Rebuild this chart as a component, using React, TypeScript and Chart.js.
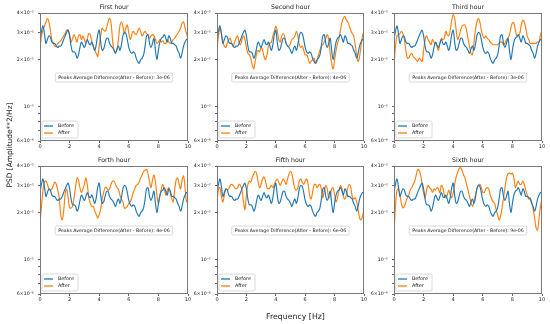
import { useEffect, useRef } from "react";
import { Chart, registerables } from "chart.js";

Chart.register(...registerables);
Chart.defaults.font.family = '"DejaVu Sans", sans-serif';

// Frequencies in Hz
const FREQ = [
  0, 0.1, 0.2, 0.3, 0.4, 0.5, 0.6, 0.7, 0.8, 0.9,
  1, 1.1, 1.2, 1.3, 1.4, 1.5, 1.6, 1.7, 1.8, 1.9,
  2, 2.1, 2.2, 2.3, 2.4, 2.5, 2.6, 2.7, 2.8, 2.9,
  3, 3.1, 3.2, 3.3, 3.4, 3.5, 3.6, 3.7, 3.8, 3.9,
  4, 4.1, 4.2, 4.3, 4.4, 4.5, 4.6, 4.7, 4.8, 4.9,
  5, 5.1, 5.2, 5.3, 5.4, 5.5, 5.6, 5.7, 5.8, 5.9,
  6, 6.1, 6.2, 6.3, 6.4, 6.5, 6.6, 6.7, 6.8, 6.9,
  7, 7.1, 7.2, 7.3, 7.4, 7.5, 7.6, 7.7, 7.8, 7.9,
  8, 8.1, 8.2, 8.3, 8.4, 8.5, 8.6, 8.7, 8.8, 8.9,
  9, 9.1, 9.2, 9.3, 9.4, 9.5, 9.6, 9.7, 9.8, 9.9, 10,
];

// PSD values in units of 1e-5 Amplitude**2/Hz
const BEFORE = [
  2.7, 3.05, 3.3, 2.95, 2.55, 2.7, 2.85, 2.8, 2.6, 2.55,
  2.55, 2.45, 2.4, 2.45, 2.45, 2.55, 2.7, 2.85, 3.0, 3.1,
  2.85, 2.45, 2.25, 2.25, 2.2, 2.05, 2.15, 2.4, 2.6, 2.5,
  2.4, 2.55, 2.7, 2.55, 2.5, 2.6, 2.45, 2.3, 2.5, 2.9,
  3.1, 2.6, 2.3, 2.35, 2.55, 2.75, 2.75, 2.55, 2.45, 2.4,
  2.3, 2.2, 2.35, 2.45, 2.3, 2.5, 2.85, 3.0, 2.95, 2.7,
  2.4, 2.25, 2.2, 2.25, 2.2, 2.05, 1.95, 1.9, 2.0, 2.05,
  2.15, 2.45, 2.85, 2.9, 2.55, 2.4, 2.55, 2.75, 2.3, 2.0,
  2.3, 2.6, 2.75, 2.8, 2.9, 2.75, 2.6, 2.85, 2.75, 2.55,
  2.55, 2.5, 2.45, 2.3, 2.2, 2.05, 2.2, 2.45, 2.6, 2.7, 2.7,
];

const AFTER_1 = [
  2.35, 2.85, 3.1, 3.3, 3.5, 3.7, 3.5, 3.1, 2.7, 2.55,
  2.45, 2.45, 2.55, 2.6, 2.65, 2.75, 2.85, 2.95, 3.1, 3.1,
  2.9, 2.6, 2.75, 2.9, 2.75, 2.6, 2.85, 2.9, 2.7, 2.85,
  2.7, 2.55, 2.75, 2.95, 2.9, 2.6, 2.45, 2.3, 2.2, 2.1,
  2.45, 2.85, 3.2, 3.1, 3.05, 3.2, 3.5, 3.7, 3.45, 2.7,
  2.3, 2.25, 2.3, 2.7, 3.3, 3.5, 3.3, 2.95, 3.2, 3.35,
  2.95, 2.7, 2.9, 3.05, 2.95, 2.9, 3.05, 3.2, 3.05, 2.85,
  2.95, 3.05, 2.95, 2.9, 2.75, 2.85, 2.9, 2.85, 2.7, 2.55,
  2.6, 2.7, 2.6, 2.65, 2.55, 2.55, 2.7, 2.6, 2.55, 2.6,
  2.7, 2.75, 2.85, 2.95, 3.05, 3.2, 3.45, 3.5, 3.2, 2.95, 2.75,
];

const AFTER_2 = [
  2.3, 2.85, 3.2, 2.95, 2.6, 2.45, 2.4, 2.55, 2.7, 2.75,
  2.55, 2.45, 2.6, 2.75, 2.85, 2.6, 2.5, 2.7, 2.85, 2.7,
  2.4, 2.2, 2.15, 2.05, 1.85, 1.75, 1.95, 2.2, 2.3, 2.25,
  2.4, 2.3, 2.1, 2.0, 2.15, 2.45, 2.55, 2.6, 2.85, 3.05,
  3.3, 3.05, 2.7, 2.6, 2.85, 2.95, 2.85, 2.55, 2.45, 2.45,
  2.55, 2.7, 2.75, 2.85, 3.05, 2.85, 2.5, 2.4, 2.45, 2.3,
  2.15, 2.15, 2.05, 1.9, 1.95, 2.0, 2.05, 1.9, 1.95, 2.15,
  2.3, 2.45, 2.5, 2.6, 2.75, 2.9, 2.7, 2.2, 1.9, 1.75,
  2.0, 2.3, 2.55, 2.75, 3.1, 3.5, 3.7, 3.8, 3.6, 3.5,
  3.3, 3.1, 2.95, 2.85, 2.5, 2.15, 1.95, 2.1, 2.45, 2.85, 3.05,
];

const AFTER_3 = [
  1.8, 2.45, 2.85, 2.9, 2.95, 3.05, 2.95, 2.7, 2.3, 2.05,
  2.05, 2.15, 2.2, 2.1, 2.05, 2.0, 1.95, 2.05, 2.0, 1.95,
  2.3, 2.7, 2.85, 2.7, 2.6, 2.5, 2.7, 2.6, 2.55, 2.45,
  2.3, 2.55, 2.75, 2.7, 2.75, 3.05, 2.9, 2.85, 3.1, 3.6,
  3.9, 3.7, 3.1, 2.7, 2.85, 3.1, 3.3, 3.35, 3.35, 3.1,
  2.75, 2.45, 2.2, 2.15, 2.55, 3.1, 3.5, 3.7, 3.5, 3.1,
  2.85, 2.75, 2.85, 2.75, 2.7, 2.6, 2.55, 2.5, 2.5, 2.5,
  2.5, 2.55, 2.6, 2.6, 2.5, 2.55, 2.7, 2.75, 2.9, 3.2,
  3.45, 3.45, 3.1, 2.85, 2.85, 2.95, 3.35, 3.6, 3.5, 3.2,
  2.85, 2.7, 2.55, 2.55, 2.55, 2.55, 2.55, 2.6, 2.6, 2.9, 3.1,
];

const AFTER_4 = [
  1.7, 2.2, 2.8, 3.15, 3.2, 3.05, 2.85, 2.8, 2.85, 3.0,
  3.15, 3.05, 2.8, 2.5, 1.95, 1.8, 2.05, 2.65, 2.85, 2.5,
  2.15, 2.15, 2.2, 2.5, 2.9, 3.35, 3.25, 2.9, 2.7, 2.85,
  3.05, 3.35, 3.0, 2.5, 2.3, 2.2, 2.2, 2.05, 1.95, 1.85,
  1.95, 2.1, 2.45, 2.7, 2.9, 2.9, 2.8, 2.85, 3.05, 3.2,
  3.2, 3.05, 2.9, 2.85, 2.6, 2.45, 2.35, 2.15, 2.15, 2.2,
  2.3, 2.35, 2.5, 2.7, 2.85, 3.0, 3.05, 3.15, 3.35, 3.5,
  3.7, 3.75, 3.8, 3.55, 3.15, 2.9, 3.25, 3.5, 3.15, 2.6,
  2.3, 2.55, 2.85, 3.05, 2.85, 2.6, 2.8, 2.9, 2.7, 2.45,
  2.35, 2.8, 3.25, 3.35, 3.05, 2.85, 3.25, 3.45, 2.9, 2.35, 2.5,
];

const AFTER_5 = [
  2.35, 2.85, 2.9, 2.55, 2.35, 2.6, 2.85, 2.8, 2.85, 3.0,
  3.05, 3.0, 2.9, 2.85, 2.9, 3.05, 3.0, 2.8, 2.35, 2.1,
  2.6, 3.05, 3.2, 3.15, 3.4, 3.55, 3.7, 3.55, 3.15, 2.9,
  3.05, 3.3, 3.4, 3.2, 2.9, 2.85, 2.9, 3.0, 2.9, 3.05,
  3.2, 3.3, 3.15, 3.0, 3.15, 3.3, 3.2, 3.05, 3.3, 3.55,
  3.7, 3.55, 3.15, 2.85, 2.8, 2.9, 3.2, 3.3, 3.15, 3.05,
  3.2, 3.3, 3.05, 2.6, 2.45, 2.7, 3.0, 3.05, 2.9, 3.0,
  3.05, 2.85, 2.5, 2.8, 3.0, 2.85, 2.5, 2.55, 2.85, 2.9,
  2.6, 2.35, 2.5, 2.8, 3.0, 2.85, 2.55, 2.45, 2.6, 2.9,
  3.05, 2.9, 2.55, 2.45, 2.5, 2.35, 2.1, 1.85, 1.8, 1.9, 2.1,
];

const AFTER_6 = [
  1.45, 2.2, 2.8, 2.85, 2.6, 2.3, 2.15, 2.2, 2.35, 2.5,
  2.6, 2.8, 2.9, 3.05, 3.2, 3.5, 3.8, 3.75, 3.5, 3.05,
  2.7, 2.5, 2.8, 3.0, 2.9, 2.85, 2.7, 2.85, 2.8, 2.9,
  2.85, 2.7, 3.0, 2.9, 2.6, 2.5, 2.6, 2.8, 2.6, 2.5,
  2.7, 3.05, 3.4, 3.65, 3.85, 3.9, 3.75, 3.5, 3.35, 3.05,
  2.8, 2.55, 2.35, 2.2, 2.35, 2.6, 2.85, 3.0, 3.05, 2.9,
  2.7, 2.7, 2.85, 2.9, 2.85, 2.6, 2.45, 2.35, 2.3, 2.1,
  1.95, 1.8, 1.9, 2.15, 2.5, 2.9, 3.35, 3.55, 3.6, 3.55,
  3.6, 3.35, 2.9, 3.05, 3.2, 3.05, 3.05, 3.2, 3.05, 2.8,
  2.6, 2.45, 2.5, 2.35, 2.1, 1.85, 1.6, 1.55, 1.85, 2.2, 2.5,
];

const AFTERS = [AFTER_1, AFTER_2, AFTER_3, AFTER_4, AFTER_5, AFTER_6];
const TITLES = ["First hour", "Second hour", "Third hour", "Forth hour", "Fifth hour", "Sixth hour"];
const DIFFS = ["3e-06", "4e-06", "3e-06", "4e-06", "6e-06", "9e-06"];
const SERIES_NAMES = ["Before", "After"];
const Y_TICKS = [0.6, 0.7, 0.8, 0.9, 1, 2, 3, 4];
const Y_TICK_LABELS = ["6×10⁻⁶", "", "", "", "10⁻⁵", "2×10⁻⁵", "3×10⁻⁵", "4×10⁻⁵"];
const X_TICKS = [0, 2, 4, 6, 8, 10];

const BLUE = "#1f77b4";
const ORANGE = "#ff7f0e";
const FONT = '"DejaVu Sans", sans-serif';

const PANELS = [
  { l: 40, t: 13, w: 148, h: 128 },
  { l: 217, t: 13, w: 147, h: 128 },
  { l: 394, t: 13, w: 148, h: 128 },
  { l: 40, t: 166, w: 148, h: 128 },
  { l: 217, t: 166, w: 147, h: 128 },
  { l: 394, t: 166, w: 148, h: 128 },
];

const PAD_L = 40;
const PAD_T = 14;
const PAD_R = 8;
const PAD_B = 16;

function roundRect(ctx: CanvasRenderingContext2D, x: number, y: number, w: number, h: number, r: number) {
  ctx.beginPath();
  ctx.moveTo(x + r, y);
  ctx.lineTo(x + w - r, y);
  ctx.quadraticCurveTo(x + w, y, x + w, y + r);
  ctx.lineTo(x + w, y + h - r);
  ctx.quadraticCurveTo(x + w, y + h, x + w - r, y + h);
  ctx.lineTo(x + r, y + h);
  ctx.quadraticCurveTo(x, y + h, x, y + h - r);
  ctx.lineTo(x, y + r);
  ctx.quadraticCurveTo(x, y, x + r, y);
  ctx.closePath();
}

function makeDecor(title: string, diff: string) {
  return {
    id: "decor",
    afterDraw(chart: any) {
      const ctx: CanvasRenderingContext2D = chart.ctx;
      const a = chart.chartArea;
      ctx.save();
      // frame
      ctx.strokeStyle = "#7a7a7a";
      ctx.lineWidth = 1;
      ctx.strokeRect(a.left + 0.5, a.top + 0.5, a.right - a.left - 1, a.bottom - a.top - 1);
      // title
      ctx.fillStyle = "#1a1a1a";
      ctx.font = `6.2px ${FONT}`;
      ctx.textAlign = "center";
      ctx.textBaseline = "middle";
      const cx = (a.left + a.right) / 2;
      ctx.fillText(title, cx, a.top - 6);
      // annotation
      const txt = `Peaks Average Difference(After - Before): ${diff}`;
      ctx.font = `4.7px ${FONT}`;
      const tw = ctx.measureText(txt).width;
      const cy = (a.top + a.bottom) / 2 + 0.5;
      roundRect(ctx, cx - tw / 2 - 3, cy - 4.5, tw + 6, 9, 1.5);
      ctx.fillStyle = "rgba(255,255,255,0.85)";
      ctx.fill();
      ctx.strokeStyle = "#d0d0d0";
      ctx.lineWidth = 0.8;
      ctx.stroke();
      ctx.fillStyle = "#1a1a1a";
      ctx.fillText(txt, cx, cy);
      // legend
      const lx = a.left + 2;
      const lh = 17;
      const ly = a.bottom - 3 - lh;
      roundRect(ctx, lx, ly, 36, lh, 1.5);
      ctx.fillStyle = "rgba(255,255,255,0.85)";
      ctx.fill();
      ctx.strokeStyle = "#d0d0d0";
      ctx.lineWidth = 0.8;
      ctx.stroke();
      const cols = [BLUE, ORANGE];
      ctx.font = `4.9px ${FONT}`;
      ctx.textAlign = "left";
      SERIES_NAMES.forEach((name, i) => {
        const y = ly + 5 + i * 7;
        ctx.strokeStyle = cols[i];
        ctx.lineWidth = 1.3;
        ctx.beginPath();
        ctx.moveTo(lx + 2, y);
        ctx.lineTo(lx + 11, y);
        ctx.stroke();
        ctx.fillStyle = "#1a1a1a";
        ctx.fillText(name, lx + 16, y);
      });
      ctx.restore();
    },
  };
}

function Panel({ idx, rect }: { idx: number; rect: { l: number; t: number; w: number; h: number } }) {
  const ref = useRef<HTMLCanvasElement | null>(null);
  const W = rect.w + PAD_L + PAD_R;
  const H = rect.h + PAD_T + PAD_B;
  useEffect(() => {
    if (!ref.current) return;
    const after = AFTERS[idx];
    const chart = new Chart(ref.current, {
      type: "line",
      data: {
        datasets: [
          {
            label: SERIES_NAMES[0],
            data: FREQ.map((x, i) => ({ x, y: BEFORE[i] })),
            borderColor: BLUE,
            borderWidth: 1.15,
            pointRadius: 0,
            tension: 0.35,
            fill: false,
          },
          {
            label: SERIES_NAMES[1],
            data: FREQ.map((x, i) => ({ x, y: after[i] })),
            borderColor: ORANGE,
            borderWidth: 1.15,
            pointRadius: 0,
            tension: 0.35,
            fill: false,
          },
        ],
      },
      options: {
        animation: false,
        responsive: false,
        maintainAspectRatio: false,
        layout: { padding: { left: 0, top: PAD_T, right: PAD_R, bottom: 0 } },
        plugins: { legend: { display: false }, title: { display: false }, tooltip: { enabled: false } },
        scales: {
          x: {
            type: "linear",
            min: 0,
            max: 10,
            afterFit: (s: any) => {
              s.height = PAD_B;
            },
            afterBuildTicks: (s: any) => {
              s.ticks = X_TICKS.map((v) => ({ value: v }));
            },
            ticks: {
              autoSkip: false,
              maxRotation: 0,
              padding: 1,
              color: "#222",
              font: { size: 5, family: FONT },
            },
            grid: { display: true, drawOnChartArea: false, drawTicks: true, tickLength: 2, color: "#666" },
            border: { display: false },
          },
          y: {
            type: "logarithmic",
            min: 0.6,
            max: 4,
            afterFit: (s: any) => {
              s.width = PAD_L;
            },
            afterBuildTicks: (s: any) => {
              s.ticks = Y_TICKS.map((v) => ({ value: v }));
            },
            ticks: {
              autoSkip: false,
              padding: 4,
              color: "#222",
              font: { size: 4.7, family: FONT },
              callback: (_v: any, i: number) => Y_TICK_LABELS[i],
            },
            grid: { display: true, drawOnChartArea: false, drawTicks: true, tickLength: 2, color: "#666" },
            border: { display: false },
          },
        },
      },
      plugins: [makeDecor(TITLES[idx], DIFFS[idx])],
    } as any);
    return () => chart.destroy();
  }, [idx]);
  return (
    <canvas
      ref={ref}
      width={W}
      height={H}
      style={{ position: "absolute", left: rect.l - PAD_L, top: rect.t - PAD_T, width: W, height: H }}
    />
  );
}

export default function App() {
  return (
    <div
      style={{
        position: "absolute",
        left: 0,
        top: 0,
        width: 550,
        height: 324,
        background: "#fff",
        overflow: "hidden",
        fontFamily: FONT,
        color: "#1a1a1a",
      }}
    >
      {PANELS.map((r, i) => (
        <Panel key={i} idx={i} rect={r} />
      ))}
      <div
        style={{
          position: "absolute",
          left: 245.5,
          top: 311.5,
          width: 100,
          height: 10,
          lineHeight: "10px",
          textAlign: "center",
          fontSize: 7.8,
          whiteSpace: "nowrap",
        }}
      >
        Frequency [Hz]
      </div>
      <div
        style={{
          position: "absolute",
          left: 10 - 60,
          top: 145 - 5,
          width: 120,
          height: 10,
          lineHeight: "10px",
          textAlign: "center",
          fontSize: 7.4,
          whiteSpace: "nowrap",
          transform: "rotate(-90deg)",
        }}
      >
        PSD [Amplitude**2/Hz]
      </div>
    </div>
  );
}
